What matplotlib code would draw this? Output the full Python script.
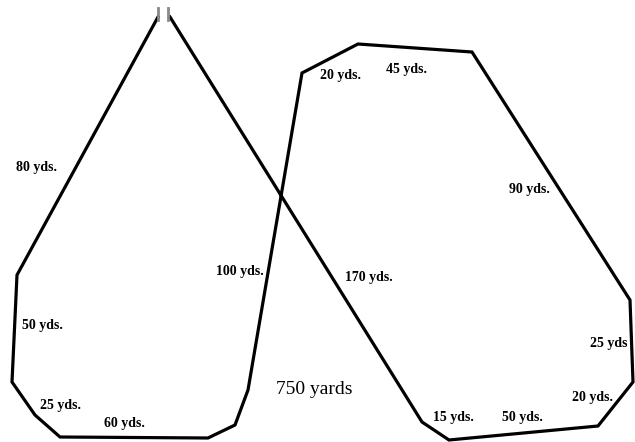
import matplotlib
matplotlib.use('Agg')
import matplotlib.pyplot as plt

# Percurso (coordenadas do desenho, eixo y invertido)
percurso_x = [158, 17, 12, 35, 60, 208, 235, 248, 302, 358, 472, 630, 633, 598, 449, 422, 170]
percurso_y = [17, 275, 382, 415, 437, 438, 425, 390, 73, 44, 52, 300, 382, 426, 440, 422, 17]

# Rótulos dos trechos
rotulos = ['80 yds.', '50 yds.', '25 yds.', '60 yds.', '100 yds.', '170 yds.',
           '20 yds.', '45 yds.', '90 yds.', '25 yds', '20 yds.', '15 yds.', '50 yds.']
rotulos_x = [37, 42, 60, 124, 240, 369, 341, 407, 529, 609, 593, 453, 522]
rotulos_y = [168, 325, 405, 423, 272, 278, 76, 69, 190, 343, 397, 418, 417]

total = '750 yards'

fig = plt.figure(figsize=(6.35, 4.42), dpi=100)
ax = fig.add_axes([0, 0, 1, 1])
ax.set_xlim(0, 635)
ax.set_ylim(442, 0)
ax.axis('off')

# Desenha o percurso
ax.plot(percurso_x, percurso_y, color='black', lw=2.3, solid_joinstyle='miter')

# Marcas da largada no topo
ax.plot([158, 158], [8, 20], color='#888888', lw=2)
ax.plot([168, 168], [8, 20], color='#888888', lw=2)

for r, x, y in zip(rotulos, rotulos_x, rotulos_y):
    ax.text(x, y, r, fontsize=10, family='Liberation Serif', weight='bold',
            ha='center', va='center')

ax.text(314, 390, total, fontsize=14, family='Liberation Serif', ha='center', va='center')

fig.savefig('out.png', dpi=100)
